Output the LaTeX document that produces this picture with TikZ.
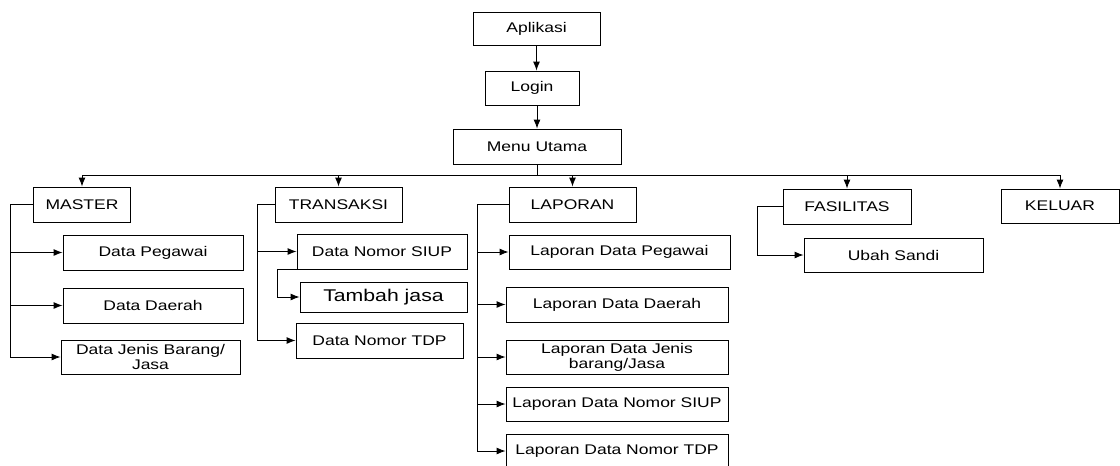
\documentclass[tikz,border=0pt]{standalone}
\usepackage{fontspec}
\setmainfont{Liberation Sans}[FakeStretch=1.25]
\usetikzlibrary{arrows.meta}
\begin{document}
\begin{tikzpicture}[x=1pt,y=-1pt,line width=0.9pt,
    >={Latex[length=9pt,width=7pt]},
    kotak/.style={draw, inner sep=1pt, align=center, font=\fontsize{14}{15}\selectfont}]
  \useasboundingbox (0,0) rectangle (1120,466);

  % atas
  \node[kotak, minimum width=127, minimum height=33] (aplikasi) at (536.5,28.5) {Aplikasi};
  \node[kotak, minimum width=94, minimum height=34] (login) at (532,88) {Login};
  \node[kotak, minimum width=168, minimum height=35] (menu) at (537,146.5) {Menu Utama};
  \draw[->] (aplikasi.south) -- (aplikasi.south |- login.north);
  \draw[->] (login.south -| menu.north) -- (menu.north);

  % menu
  \node[kotak, minimum width=97, minimum height=35] (master) at (82,204.5) {MASTER};
  \node[kotak, minimum width=127, minimum height=35] (transaksi) at (338.5,204.5) {TRANSAKSI};
  \node[kotak, minimum width=127, minimum height=35] (laporan) at (572.5,204.5) {LAPORAN};
  \node[kotak, minimum width=128, minimum height=35] (fasilitas) at (847,206.5) {FASILITAS};
  \node[kotak, minimum width=118, minimum height=34] (keluar) at (1060,206) {KELUAR};

  \coordinate (bus) at (537,175);
  \draw (menu.south) -- (bus);
  \draw (master.north |- bus) -- (keluar.north |- bus);
  \foreach \n in {master,transaksi,laporan,fasilitas,keluar}
    \draw[->] (\n.north |- bus) -- (\n.north);

  % master
  \node[kotak, minimum width=180, minimum height=35] (pegawai) at (153,252.5) {Data Pegawai};
  \node[kotak, minimum width=180, minimum height=35] (daerah) at (153,305.5) {Data Daerah};
  \node[kotak, minimum width=179, minimum height=34] (jenis) at (150.5,357) {Data Jenis Barang/\\Jasa};
  \draw[->] (master.west) -- ++(-23,0) coordinate (mkiri) |- (jenis.west);
  \foreach \n in {pegawai,daerah}
    \draw[->] (mkiri |- \n.west) -- (\n.west);

  % transaksi
  \node[kotak, minimum width=170, minimum height=35] (siup) at (382,251.5) {Data Nomor SIUP};
  \node[kotak, minimum width=167, minimum height=30, font=\fontsize{17}{19}\selectfont] (tambah) at (383.5,297) {Tambah jasa};
  \node[kotak, minimum width=167, minimum height=35] (tdp) at (379.5,340.5) {Data Nomor TDP};
  \draw[->] (transaksi.west) -- ++(-17,0) coordinate (tkiri) |- (tdp.west);
  \draw[->] (tkiri |- siup.west) -- (siup.west);
  \draw[->] (siup.south west) -- ++(-19,0) |- (tambah.west);

  % laporan
  \node[kotak, minimum width=221, minimum height=34] (lpegawai) at (619.5,252) {Laporan Data Pegawai};
  \node[kotak, minimum width=222, minimum height=35] (ldaerah) at (617,304.5) {Laporan Data Daerah};
  \node[kotak, minimum width=222, minimum height=34] (ljenis) at (617,357) {Laporan Data Jenis\\barang/Jasa};
  \node[kotak, minimum width=222, minimum height=34] (lsiup) at (617,404) {Laporan Data Nomor SIUP};
  \node[kotak, minimum width=222, minimum height=34] (ltdp) at (617,451) {Laporan Data Nomor TDP};
  \draw[->] (laporan.west) -- ++(-31,0) coordinate (lkiri) |- (ltdp.west);
  \foreach \n in {lpegawai,ldaerah,ljenis,lsiup}
    \draw[->] (lkiri |- \n.west) -- (\n.west);

  % fasilitas
  \node[kotak, minimum width=179, minimum height=34] (ubah) at (893.5,255) {Ubah Sandi};
  \draw[->] (fasilitas.west) -- ++(-25,0) |- (ubah.west);
\end{tikzpicture}
\end{document}
